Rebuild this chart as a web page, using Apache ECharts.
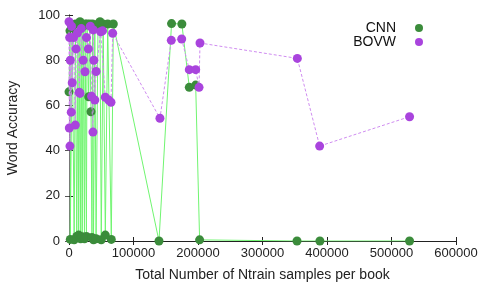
<!DOCTYPE html>
<html><head><meta charset="utf-8">
<script src="https://cdn.jsdelivr.net/npm/echarts@6/dist/echarts.min.js"></script>
<style>html,body{margin:0;padding:0;background:#fff}#c{width:480px;height:287px}</style>
</head><body><div id="c"></div>
<script>
const seriesNames = ['CNN', 'BOVW'];
const xTicks = [0, 100000, 200000, 300000, 400000, 500000, 600000];
const yTicks = [0, 20, 40, 60, 80, 100];
// CNN: [samples, accuracy] in file order
const cnnData = [
  [0,66],[1500,93],[3000,96],[2000,0.7],[5000,95],[8000,0.5],[10000,96],[12000,2],[14000,96],[15000,2.6],
  [17000,97],[18000,1],[20000,96],[20500,1.9],[22000,95],[24000,1],[25000,96],[27000,2],[28000,96],[30500,63.8],
  [32000,96],[34100,57.2],[35600,1.6],[36500,96],[38000,0.5],[40000,95],[42000,1],[45000,96],[48000,97],[50000,0.5],
  [53000,96],[56300,2.6],[60000,96],[65600,0.7],[68700,96],[139500,0],[159000,96.2],[175000,96],[186500,68],[196400,69],
  [202500,0.5],[353500,0],[389000,0],[528000,0]
];
// BOVW: [samples, accuracy] in file order
const bovwData = [
  [0,97],[500,50],[1000,90],[1500,42],[2000,80],[3500,57],[4000,95],[5000,70],[7000,90],[9800,51.3],
  [11000,85],[13000,92],[16000,65.8],[17000,65.3],[19000,94],[22000,80],[24800,74.9],[27000,90],[30000,85],[33000,95],
  [35000,64],[37200,48.2],[37700,93.4],[38500,80],[40000,62.4],[42000,75],[49100,92.6],[52000,93],[56300,63.6],[61500,62.4],
  [65100,61.4],[67700,91.9],[141000,54.3],[158600,88.8],[174700,89.4],[186500,75.8],[196400,75.8],[201600,68],[203100,87.6],[354000,80.8],
  [388600,42],[528000,55]
];

const font = 'Liberation Sans, Arial, sans-serif';
const chart = echarts.init(document.getElementById('c'), null, {renderer: 'canvas'});
const axisLine = {show: true, lineStyle: {color: '#222', width: 1}};
chart.setOption({
  animation: false,
  grid: {left: 69, right: 24, top: 15, bottom: 46, containLabel: false, outerBoundsMode: 'none'},
  legend: {
    data: seriesNames.map(n => ({name: n, icon: 'circle'})),
    orient: 'vertical', align: 'right', right: 52, top: 16,
    itemWidth: 36, itemHeight: 8, itemGap: 0,
    textStyle: {fontFamily: font, fontSize: 14, lineHeight: 14, color: '#111'}
  },
  xAxis: [{
    type: 'value', min: xTicks[0], max: xTicks[xTicks.length - 1], interval: 100000,
    name: 'Total Number of Ntrain samples per book', nameLocation: 'middle', nameGap: 27,
    nameTextStyle: {fontFamily: font, fontSize: 14, color: '#222'},
    axisLine, axisTick: {show: true, inside: true, length: 4, lineStyle: {color: '#222'}},
    axisLabel: {fontFamily: font, fontSize: 13, color: '#222', margin: 6, formatter: v => String(v)},
    splitLine: {show: false}
  }, {
    type: 'value', position: 'top', min: 0, max: 600000, interval: 100000,
    axisLine, axisTick: {show: true, inside: true, length: 4, lineStyle: {color: '#222'}},
    axisLabel: {show: false}, splitLine: {show: false}
  }],
  yAxis: [{
    type: 'value', min: yTicks[0], max: yTicks[yTicks.length - 1], interval: 20,
    name: 'Word Accuracy', nameLocation: 'middle', nameGap: 49,
    nameTextStyle: {fontFamily: font, fontSize: 14, color: '#222'},
    axisLine, axisTick: {show: true, inside: true, length: 4, lineStyle: {color: '#222'}},
    axisLabel: {fontFamily: font, fontSize: 13, color: '#222', margin: 9},
    splitLine: {show: false}
  }, {
    type: 'value', position: 'right', min: 0, max: 100, interval: 20,
    axisLine: {show: true, lineStyle: {color: '#777', width: 1}},
    axisTick: {show: true, inside: true, length: 4, lineStyle: {color: '#555'}},
    axisLabel: {show: false}, splitLine: {show: false}
  }],
  series: [{
    name: 'CNN', type: 'line', data: cnnData, xAxisIndex: 0, yAxisIndex: 0,
    symbol: 'circle', symbolSize: 9, showAllSymbol: true,
    itemStyle: {color: '#3b8c3b'},
    lineStyle: {color: '#70f570', width: 1},
    z: 2
  }, {
    name: 'BOVW', type: 'line', data: bovwData, xAxisIndex: 0, yAxisIndex: 0,
    symbol: 'circle', symbolSize: 9, showAllSymbol: true,
    itemStyle: {color: '#a944dd'},
    lineStyle: {color: '#cf8cf0', width: 1, type: [3, 2]},
    z: 3
  }]
});
</script></body></html>
